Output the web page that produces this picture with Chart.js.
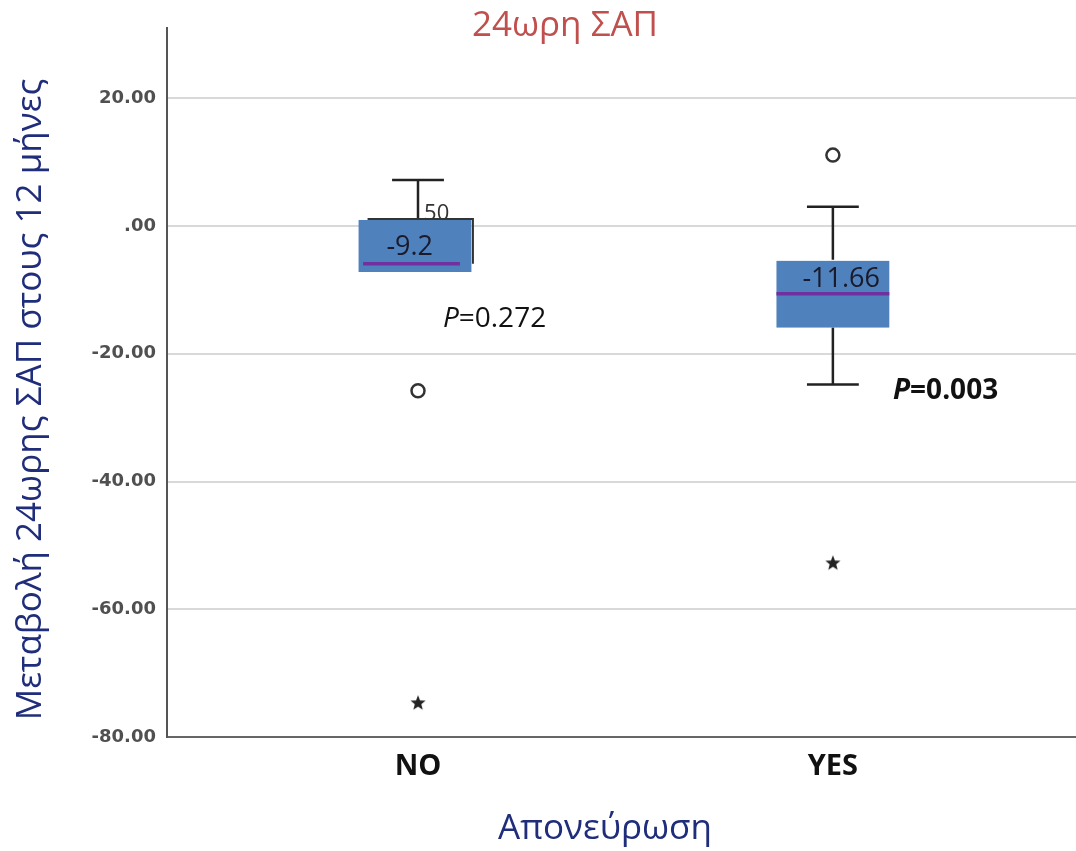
<!DOCTYPE html>
<html>
<head>
<meta charset="utf-8">
<script src="https://cdn.jsdelivr.net/npm/chart.js@4.4.1/dist/chart.umd.min.js"></script>
<style>
  html, body { margin: 0; background: #fff; }
  #wrap { width: 1076px; height: 851px; }
</style>
</head>
<body>
<div id="wrap"><canvas id="chart"></canvas></div>
<script>
// values
const categories = ["NO", "YES"];
const whiskerLow = [-7.2, -24.8];
const q1 = [-7.2, -15.9];
const medians = [-5.9, -10.6];
const q3 = [1.1, -5.3];
const whiskerHigh = [7.2, 3.0];
const outliers = [[-25.8], [11.1]];
const extremes = [[-74.7], [-52.8]];
const caseLabels = ["50", ""];
const meanLabels = ["-9.2", "-11.66"];
const pValues = ["0.272", "0.003"];
const yTicks = [-80, -60, -40, -20, 0, 20];

// layout / style constants
const BOX_W = 0.272;
const CAP_W = 0.125;
const MEAN_POS = [{ dx: -0.02, y: -3.4 }, { dx: 0.02, y: -8.3 }];
const P_POS = [{ dx: 0.06, y: -14.5, bold: false }, { dx: 0.145, y: -25.8, bold: true }];
const CASE_POS = [{ dx: 0.045, y: 1.9 }, null];
const OUTLINE = [true, false]; // stray SPSS box edge left visible on the first box
const GREEK = '"Open Sans", "Noto Sans", sans-serif';
const NAVY = "#1f2d7a";

const fmtTick = (v) => (v === 0 ? ".00" : v.toFixed(2));

function makeStar() {
  const c = document.createElement("canvas");
  c.width = c.height = 18;
  const g = c.getContext("2d");
  g.fillStyle = "#222";
  g.beginPath();
  for (let i = 0; i < 10; i++) {
    const r = i % 2 === 0 ? 8 : 3.4;
    const a = -Math.PI / 2 + (i * Math.PI) / 5;
    g.lineTo(9 + r * Math.cos(a), 9 + r * Math.sin(a));
  }
  g.closePath();
  g.fill();
  return c;
}

const boxPlugin = {
  id: "boxes",
  beforeDatasetsDraw(chart) {
    const { ctx, scales: { x, y } } = chart;
    ctx.save();

    // case number sits behind the box
    ctx.font = "22px " + GREEK;
    ctx.fillStyle = "#333";
    ctx.textAlign = "center";
    ctx.textBaseline = "middle";
    caseLabels.forEach((t, i) => {
      if (!t || !CASE_POS[i]) return;
      ctx.fillText(t, x.getPixelForValue(i + 1 + CASE_POS[i].dx), y.getPixelForValue(CASE_POS[i].y));
    });

    categories.forEach((c, i) => {
      const cx = x.getPixelForValue(i + 1);
      const half = x.getPixelForValue(i + 1 + BOX_W / 2) - cx;
      const capHalf = x.getPixelForValue(i + 1 + CAP_W / 2) - cx;
      const yTop = y.getPixelForValue(q3[i]);
      const yBot = y.getPixelForValue(q1[i]);
      const ym = y.getPixelForValue(medians[i]);
      const shift = OUTLINE[i] ? -3 : 0;

      ctx.strokeStyle = "#222";
      ctx.lineWidth = 2.5;
      ctx.beginPath();
      if (whiskerHigh[i] > q3[i]) {
        const yw = y.getPixelForValue(whiskerHigh[i]);
        ctx.moveTo(cx, yTop); ctx.lineTo(cx, yw);
        ctx.moveTo(cx - capHalf, yw); ctx.lineTo(cx + capHalf, yw);
      }
      if (whiskerLow[i] < q1[i]) {
        const yw = y.getPixelForValue(whiskerLow[i]);
        ctx.moveTo(cx, yBot); ctx.lineTo(cx, yw);
        ctx.moveTo(cx - capHalf, yw); ctx.lineTo(cx + capHalf, yw);
      }
      ctx.stroke();

      if (OUTLINE[i]) {
        ctx.strokeStyle = "#333";
        ctx.lineWidth = 2;
        ctx.beginPath();
        ctx.moveTo(cx - half + 6, yTop);
        ctx.lineTo(cx + half - 1.5, yTop);
        ctx.lineTo(cx + half - 1.5, ym);
        ctx.stroke();
      }

      ctx.fillStyle = "#4f81bd";
      ctx.fillRect(cx - half + shift, yTop + 1, half * 2, yBot - yTop - 1);

      ctx.strokeStyle = "#7030a0";
      ctx.lineWidth = 3.5;
      ctx.beginPath();
      ctx.moveTo(cx - half + (OUTLINE[i] ? 1.5 : 0), ym);
      ctx.lineTo(cx + half - (OUTLINE[i] ? 14.5 : 0), ym);
      ctx.stroke();
    });
    ctx.restore();
  },
  afterDatasetsDraw(chart) {
    const { ctx, chartArea, scales: { x, y } } = chart;
    ctx.save();
    ctx.textBaseline = "middle";

    ctx.fillStyle = "#1a1a2a";
    ctx.textAlign = "center";
    ctx.font = "27px " + GREEK;
    meanLabels.forEach((t, i) => {
      ctx.fillText(t, x.getPixelForValue(i + 1 + MEAN_POS[i].dx), y.getPixelForValue(MEAN_POS[i].y));
    });

    ctx.textAlign = "left";
    ctx.fillStyle = "#111";
    pValues.forEach((v, i) => {
      const p = P_POS[i];
      let px = x.getPixelForValue(i + 1 + p.dx);
      const py = y.getPixelForValue(p.y);
      const w = p.bold ? "bold " : "";
      ctx.font = "italic " + w + "28px " + GREEK;
      ctx.fillText("P", px, py);
      px += ctx.measureText("P").width;
      ctx.font = w + "28px " + GREEK;
      ctx.fillText("=" + v, px, py);
    });

    // chart title and axis titles
    ctx.textAlign = "center";
    ctx.fillStyle = "#c0504d";
    ctx.font = "35px " + GREEK;
    ctx.fillText("24ωρη ΣΑΠ", 565, 26);

    ctx.fillStyle = NAVY;
    ctx.fillText("Απονεύρωση", 605, 829);

    ctx.translate(31, (chartArea.top + chartArea.bottom) / 2 + 17);
    ctx.rotate(-Math.PI / 2);
    ctx.fillText("Μεταβολή 24ωρης ΣΑΠ στους 12 μήνες", 0, 0);
    ctx.restore();
  },
};

const pointsFor = (groups) =>
  groups.flatMap((vals, i) => vals.map((v) => ({ x: i + 1, y: v })));

new Chart(document.getElementById("chart"), {
  type: "scatter",
  data: {
    datasets: [
      {
        label: "Outliers",
        data: pointsFor(outliers),
        pointStyle: "circle",
        pointRadius: 6.5,
        borderWidth: 2.5,
        borderColor: "#333",
        backgroundColor: "#fff",
      },
      {
        label: "Extremes",
        data: pointsFor(extremes),
        pointStyle: makeStar(),
        pointRadius: 9,
      },
    ],
  },
  options: {
    responsive: true,
    maintainAspectRatio: false,
    animation: false,
    layout: { autoPadding: false, padding: { top: 28, left: 0, right: 0, bottom: 0 } },
    plugins: { legend: { display: false }, tooltip: { enabled: false } },
    scales: {
      x: {
        type: "linear",
        min: 0.395,
        max: 2.586,
        afterBuildTicks: (s) => { s.ticks = categories.map((c, i) => ({ value: i + 1 })); },
        afterFit: (s) => { s.height = 114; },
        ticks: {
          callback: (v) => categories[v - 1] ?? "",
          font: { family: GREEK, size: 29, weight: "bold" },
          color: "#111",
          padding: 12,
          autoSkip: false,
          maxRotation: 0,
        },
        grid: { display: false, drawTicks: false },
        border: { color: "#666", width: 2 },
      },
      y: {
        min: -80,
        max: 31,
        afterBuildTicks: (s) => { s.ticks = yTicks.map((v) => ({ value: v })); },
        afterFit: (s) => { s.width = 167; },
        ticks: {
          callback: (v) => fmtTick(v),
          font: { family: "DejaVu Sans", size: 18, weight: "bold" },
          color: "#505050",
          padding: 11,
        },
        grid: { color: "#d9d9d9", lineWidth: 2, drawTicks: false },
        border: { color: "#555", width: 2 },
      },
    },
  },
  plugins: [boxPlugin],
});
</script>
</body>
</html>
